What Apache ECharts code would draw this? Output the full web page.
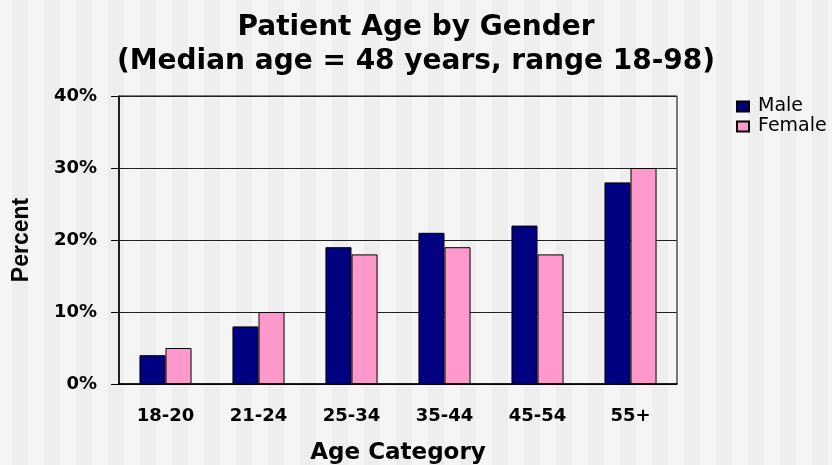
<!DOCTYPE html>
<html>
<head>
<meta charset="utf-8">
<script src="https://cdn.jsdelivr.net/npm/echarts@6/dist/echarts.min.js"></script>
<style>
  html, body {
    margin: 0;
    padding: 0;
  }
  body {
    background: repeating-linear-gradient(90deg, #f5f5f5 0 12px, #eeeeee 12px 28px, #f5f5f5 28px 32px);
  }
  #myechart {
    width: 832px;
    height: 465px;
  }
</style>
</head>
<body>
<div id="myechart"></div>
<script>
  // chart data
  var categories = ['18-20', '21-24', '25-34', '35-44', '45-54', '55+'];
  var male = [4, 8, 19, 21, 22, 28];
  var female = [5, 10, 18, 19, 18, 30];
  var yTicks = [0, 10, 20, 30, 40];

  var chart = echarts.init(document.getElementById('myechart'));
  var labelFont = {
    fontFamily: 'DejaVu Sans',
    fontWeight: 'bold',
    fontSize: 18,
    color: '#000'
  };
  var option = {
    backgroundColor: 'transparent',
    animation: false,
    title: {
      text: 'Patient Age by Gender\n(Median age = 48 years, range 18-98)',
      left: 'center',
      top: 11,
      padding: 0,
      textStyle: {
        fontFamily: 'DejaVu Sans',
        fontWeight: 'bold',
        fontSize: 28,
        lineHeight: 34,
        color: '#000'
      }
    },
    legend: {
      orient: 'vertical',
      left: 736,
      top: 97,
      padding: 0,
      itemGap: 1,
      itemWidth: 12,
      itemHeight: 10,
      icon: 'rect',
      textStyle: {
        fontFamily: 'DejaVu Sans',
        fontSize: 19,
        lineHeight: 19,
        color: '#000',
        padding: [0, 0, 0, 4]
      },
      data: ['Male', 'Female']
    },
    grid: {
      left: 119,
      right: 155,
      top: 96,
      bottom: 81,
      containLabel: false,
      outerBoundsMode: 'none',
      show: true,
      borderColor: '#000',
      borderWidth: 1,
      backgroundColor: 'transparent'
    },
    xAxis: {
      type: 'category',
      data: categories,
      name: 'Age Category',
      nameLocation: 'middle',
      nameGap: 58,
      nameTextStyle: {
        fontFamily: 'DejaVu Sans',
        fontWeight: 'bold',
        fontSize: 23,
        color: '#000'
      },
      axisLine: { lineStyle: { color: '#000', width: 1.5 } },
      axisTick: { length: 5, lineStyle: { color: '#000', width: 1.5 } },
      axisLabel: Object.assign({ margin: 23 }, labelFont)
    },
    yAxis: {
      type: 'value',
      min: yTicks[0],
      max: yTicks[yTicks.length - 1],
      interval: 10,
      name: 'Percent',
      nameLocation: 'middle',
      nameGap: 86,
      nameTextStyle: {
        fontFamily: 'Liberation Sans',
        fontWeight: 'bold',
        fontSize: 23,
        color: '#000'
      },
      axisLine: { show: true, lineStyle: { color: '#000', width: 1.5 } },
      axisTick: { show: true, length: 8, lineStyle: { color: '#000', width: 1 } },
      axisLabel: Object.assign({ margin: 22, formatter: '{value}%' }, labelFont),
      splitLine: { lineStyle: { color: '#222', width: 1 } }
    },
    series: [
      {
        name: 'Male',
        type: 'bar',
        data: male,
        barGap: '0%',
        barCategoryGap: '44%',
        itemStyle: { color: '#000080', borderColor: '#000', borderWidth: 1 }
      },
      {
        name: 'Female',
        type: 'bar',
        data: female,
        barGap: '0%',
        barCategoryGap: '44%',
        itemStyle: { color: '#ff99cc', borderColor: '#000', borderWidth: 1 }
      }
    ]
  };
  chart.setOption(option);
</script>
</body>
</html>
